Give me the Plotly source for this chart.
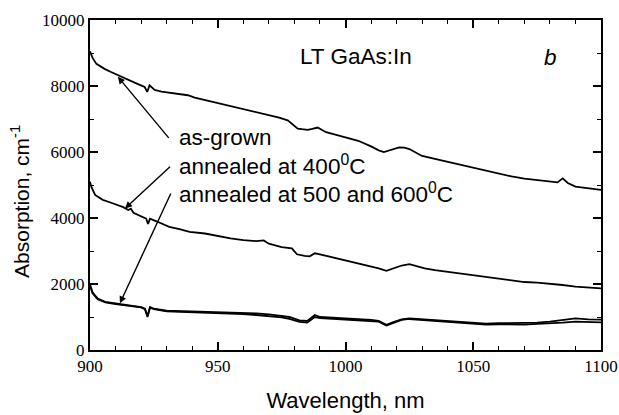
import plotly.graph_objects as go

# ---- data ----
wl_ag = [900, 901, 902.5, 904, 905.7, 908, 911, 913.5, 916, 919, 921.4, 922.4, 923.3, 924.3, 925.3, 928, 931.8,
         935, 938.3, 941, 944.8, 948, 951.3, 955, 957.9, 961, 964.4, 968, 970.9, 974, 977.4, 979.5, 981.3, 983,
         985.2, 987, 989.1, 990.5, 992.4, 996, 1000, 1005, 1010, 1013, 1015, 1018, 1021, 1023, 1025, 1028, 1030,
         1035, 1040, 1045, 1050, 1055, 1060, 1065, 1070, 1075, 1080, 1083, 1085, 1087, 1090, 1095, 1100]
abs_ag = [9050, 8850, 8670, 8590, 8520, 8430, 8320, 8230, 8150, 8050, 7970, 7820, 8020, 7950, 7880, 7830, 7790,
          7760, 7720, 7650, 7580, 7520, 7460, 7400, 7360, 7300, 7240, 7170, 7110, 7040, 6960, 6830, 6710, 6690,
          6670, 6700, 6740, 6680, 6600, 6530, 6450, 6340, 6170, 6050, 6000, 6060, 6140, 6130, 6090, 5960, 5880,
          5790, 5700, 5600, 5510, 5420, 5340, 5260, 5190, 5140, 5090, 5080, 5200, 5060, 4950, 4900, 4850]

wl_400 = [900, 900.5, 902, 905, 908, 911, 913, 915, 916, 917, 920, 922, 922.7, 923.5, 926, 931, 935, 939, 945,
          950, 955, 960, 965, 968, 970, 975, 979, 981, 984, 986, 988, 990, 995, 1000, 1005, 1010, 1013, 1016,
          1019, 1022, 1025, 1028, 1031, 1035, 1040, 1045, 1050, 1055, 1060, 1065, 1070, 1075, 1080, 1085, 1090,
          1095, 1100]
abs_400 = [5100, 4950, 4700, 4550, 4470, 4380, 4330, 4240, 4280, 4160, 4050, 3980, 3820, 3980, 3900, 3730,
           3660, 3580, 3530, 3450, 3380, 3330, 3300, 3320, 3220, 3120, 3080, 2900, 2850, 2840, 2930, 2900, 2810,
           2720, 2620, 2520, 2470, 2400, 2480, 2560, 2600, 2540, 2470, 2420, 2370, 2320, 2270, 2220, 2170, 2110,
           2060, 2040, 2010, 1970, 1920, 1890, 1870]

wl_hi = [900, 901, 903, 906, 910, 915, 920, 921.5, 922.5, 923.5, 925, 930, 935, 940, 945, 950, 955, 960, 965,
         970, 975, 978, 982, 985, 988, 990, 995, 1000, 1005, 1010, 1013, 1016, 1019, 1022, 1025, 1030, 1035,
         1040, 1045, 1050, 1055, 1060, 1065, 1070, 1075, 1080, 1085, 1090, 1095, 1100]
abs_500 = [1980, 1750, 1560, 1460, 1410, 1350, 1300, 1250, 1030, 1300, 1250, 1190, 1180, 1170, 1160, 1160,
           1150, 1130, 1110, 1080, 1040, 1000, 900, 880, 1060, 1000, 980, 960, 940, 910, 880, 760, 850, 930,
           960, 930, 910, 880, 840, 810, 800, 810, 810, 810, 830, 860, 900, 960, 930, 920]
abs_600 = [1950, 1720, 1540, 1440, 1390, 1340, 1290, 1240, 1000, 1280, 1240, 1170, 1160, 1150, 1140, 1130,
           1120, 1090, 1060, 1030, 990, 940, 850, 830, 1000, 970, 950, 930, 910, 890, 860, 740, 830, 910,
           940, 910, 890, 860, 830, 790, 770, 780, 770, 770, 790, 800, 830, 860, 840, 840]

x_ticks = [900, 950, 1000, 1050, 1100]
y_ticks = [0, 2000, 4000, 6000, 8000, 10000]

SANS = "Liberation Sans, Arial, sans-serif"
SERIF = "Liberation Serif, Times New Roman, serif"

fig = go.Figure()
for wl, ab, name in [(wl_ag, abs_ag, "as-grown"), (wl_400, abs_400, "400C"),
                     (wl_hi, abs_500, "500C"), (wl_hi, abs_600, "600C")]:
    fig.add_trace(go.Scatter(x=wl, y=ab, mode="lines", name=name,
                             line=dict(color="black", width=1.8), showlegend=False))

axis_common = dict(showline=True, linecolor="black", linewidth=2, mirror="ticks",
                   ticks="inside", tickcolor="black", tickwidth=1.5, ticklen=8,
                   showgrid=False, zeroline=False)

fig.update_xaxes(range=[900, 1100], tickvals=x_ticks, ticktext=[str(v) for v in x_ticks],
                 tickfont=dict(family=SERIF, size=17, color="black"),
                 minor=dict(dtick=10, ticks="inside", ticklen=4, tickwidth=1.3, tickcolor="black", showgrid=False),
                 title=dict(text="Wavelength, nm", font=dict(family=SANS, size=22, color="black"), standoff=17),
                 **axis_common)
fig.update_yaxes(range=[0, 10000], tickvals=y_ticks, ticktext=[str(v) for v in y_ticks],
                 tickfont=dict(family=SERIF, size=17, color="black"),
                 minor=dict(dtick=1000, ticks="inside", ticklen=4, tickwidth=1.3, tickcolor="black", showgrid=False),
                 **axis_common)

txt_font = dict(family=SANS, size=22.5, color="black")
annotations = [
    dict(x=-0.138, y=0.45, xref="paper", yref="paper", text="Absorption, cm<sup>-1</sup>", textangle=-90,
         showarrow=False, xanchor="center", yanchor="middle", font=dict(family=SANS, size=21, color="black")),
    dict(x=981.3, y=8900, text="LT GaAs:In", showarrow=False, xanchor="left", yanchor="middle", font=txt_font),
    dict(x=1077, y=8850, text="<i>b</i>", showarrow=False, xanchor="left", yanchor="middle", font=txt_font),
    dict(x=934.0, y=6430, text="as-grown", showarrow=False, xanchor="left", yanchor="middle", font=txt_font),
    dict(x=934.0, y=5620, text="annealed at 400<sup>0</sup>C", showarrow=False, xanchor="left", yanchor="middle", font=txt_font),
    dict(x=934.0, y=4770, text="annealed at 500 and 600<sup>0</sup>C", showarrow=False, xanchor="left", yanchor="middle", font=txt_font),
]
arrows = [((910.9, 8280), (931.3, 6384)), ((913.7, 4287), (931.9, 5598)), ((911.7, 1413), (931.9, 4790))]
for (tx, ty), (axx, ayy) in arrows:
    annotations.append(dict(x=tx, y=ty, ax=axx, ay=ayy, axref="x", ayref="y", xref="x", yref="y",
                            text="", showarrow=True, arrowhead=2, arrowsize=1, arrowwidth=1.4,
                            arrowcolor="black", standoff=0, startstandoff=0))

fig.update_layout(width=619, height=415, margin=dict(l=90, r=17.5, t=19.5, b=65, autoexpand=False),
                  paper_bgcolor="white", plot_bgcolor="white", annotations=annotations)

# remove the browser's default 8px body margin so the figure fills the window exactly
fig.write_html("out.html", config={"displayModeBar": False},
               post_script="document.body.style.margin='0';document.body.style.overflow='hidden';")
